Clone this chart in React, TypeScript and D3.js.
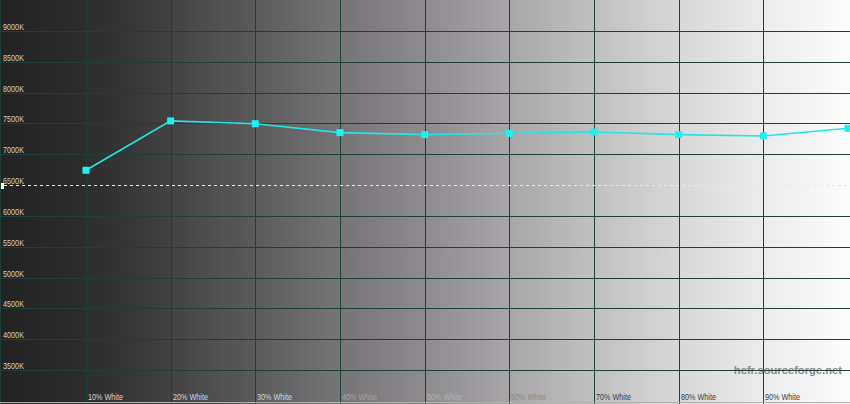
import React from "react";
import * as d3 from "d3";

const levels = [10, 20, 30, 40, 50, 60, 70, 80, 90, 100];
const categoryLabels = ["10% White", "20% White", "30% White", "40% White", "50% White", "60% White", "70% White", "80% White", "90% White"];
const colorTemps = [6740, 7540, 7495, 7350, 7317, 7339, 7360, 7317, 7296, 7420];
const yTicks = [3500, 4000, 4500, 5000, 5500, 6000, 6500, 7000, 7500, 8000, 8500, 9000];
const referenceTemp = 6500;
const labelColors = ["#d6d6d6", "#d6d6d6", "#d6d6d6", "#a2a2a2", "#b4b4b4", "#888888", "#3c3c3c", "#3c3c3c", "#3c3c3c"];

const W = 850;
const H = 404;

export default function App() {
  const x = d3.scaleLinear().domain([0, 100]).range([1.3, 848]);
  const y = d3.scaleLinear().domain([3000, 9500]).range([401, 0]);
  const line = d3
    .line<number>()
    .x((_, i) => x(levels[i]))
    .y((d) => y(d));
  const gridColor = "#1e4036";
  const font = "'Liberation Sans', Arial, sans-serif";
  const bgStops = ["#222222", "#2c2c2c", "#434243", "#5c5b5c", "#767476", "#8d8b8d", "#a8a6a8", "#c1c0c1", "#d8d8d8", "#ececec", "#fcfcfc"];
  return (
    <svg
      width={W}
      height={H}
      style={{ position: "fixed", left: 0, top: 0, display: "block" }}
    >
      <defs>
        <linearGradient id="bg" x1="0" x2="1" y1="0" y2="0">
          {bgStops.map((c, i) => (
            <stop key={i} offset={i / (bgStops.length - 1)} stopColor={c} />
          ))}
        </linearGradient>
      </defs>
      <rect x={0} y={0} width={W} height={H} fill="url(#bg)" />
      <text
        x={842}
        y={374}
        textAnchor="end"
        fontFamily={font}
        fontSize={11.2}
        fontWeight="bold"
        fill="#8c8c8c"
      >
        hcfr.sourceforge.net
      </text>
      {yTicks
        .filter((t) => t !== referenceTemp)
        .map((t) => (
          <line key={"h" + t} x1={0} x2={W} y1={Math.round(y(t)) + 0.5} y2={Math.round(y(t)) + 0.5} stroke={gridColor} strokeWidth={1} />
        ))}
      {levels.slice(0, 9).map((l) => (
        <line key={"v" + l} x1={Math.round(x(l)) + 0.5} x2={Math.round(x(l)) + 0.5} y1={0} y2={H} stroke={gridColor} strokeWidth={1} />
      ))}
      <line x1={0.5} x2={0.5} y1={0} y2={H} stroke={gridColor} strokeWidth={1} />
      <line x1={0} x2={W} y1={402.5} y2={402.5} stroke="#b0b0b0" strokeWidth={1} />
      <line
        x1={4}
        x2={W}
        y1={Math.round(y(referenceTemp)) + 0.5}
        y2={Math.round(y(referenceTemp)) + 0.5}
        stroke="#e8e8e8"
        strokeWidth={1}
        strokeDasharray="3,3"
      />
      <rect x={1} y={Math.round(y(referenceTemp)) - 2} width={3} height={6} fill="#ffffff" />
      {yTicks.map((t) => (
        <text
          key={"yl" + t}
          x={3}
          y={Math.round(y(t)) - 1.5}
          fontFamily={font}
          fontSize={9.5}
          fill="#cfcfcf"
          textLength={21}
          lengthAdjust="spacingAndGlyphs"
        >
          {`${t}K`}
        </text>
      ))}
      {categoryLabels.map((lab, i) => (
        <text
          key={"xl" + i}
          x={Math.round(x(levels[i])) + 2}
          y={400}
          fontFamily={font}
          fontSize={8.5}
          fill={labelColors[i]}
          textLength={35}
          lengthAdjust="spacingAndGlyphs"
        >
          {lab}
        </text>
      ))}
      <path d={line(colorTemps) || ""} fill="none" stroke="#22e6e6" strokeWidth={1.6} />
      {colorTemps.map((v, i) => (
        <rect
          key={"m" + i}
          x={x(levels[i]) - 3.5}
          y={y(v) - 3.5}
          width={7}
          height={7}
          fill="#1ff0f0"
        />
      ))}
    </svg>
  );
}
